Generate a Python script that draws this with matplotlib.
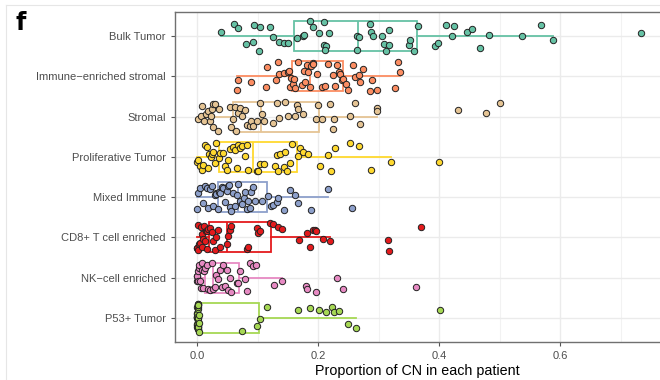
import matplotlib.pyplot as plt
import numpy as np

plt.rcParams['font.family'] = ['Liberation Sans', 'DejaVu Sans']

# categories, top to bottom
categories = ["Bulk Tumor", "Immune\u2212enriched stromal", "Stromal", "Proliferative Tumor",
              "Mixed Immune", "CD8+ T cell enriched", "NK\u2212cell enriched", "P53+ Tumor"]
colors = ["#66C2A5", "#FC8D62", "#E5C494", "#FFD92F", "#8DA0CB", "#E41A1C", "#E78AC3", "#A6D854"]

# per-patient proportions
bulk = [0.039, 0.061, 0.068, 0.081, 0.092, 0.094, 0.102, 0.104, 0.121, 0.125, 0.136, 0.144,
        0.150, 0.166, 0.175, 0.177, 0.187, 0.191, 0.202, 0.210, 0.210, 0.213, 0.218, 0.212,
        0.264, 0.265, 0.267, 0.286, 0.287, 0.291, 0.305, 0.309, 0.313, 0.317, 0.318, 0.350,
        0.352, 0.359, 0.365, 0.393, 0.399, 0.412, 0.421, 0.424, 0.447, 0.454, 0.467, 0.483,
        0.538, 0.568, 0.588, 0.734]
immune_stromal = [0.066, 0.068, 0.089, 0.114, 0.116, 0.130, 0.134, 0.136, 0.143, 0.151, 0.152,
                  0.154, 0.155, 0.159, 0.161, 0.162, 0.167, 0.173, 0.177, 0.178, 0.181, 0.184,
                  0.186, 0.188, 0.191, 0.192, 0.198, 0.206, 0.212, 0.217, 0.225, 0.228, 0.231,
                  0.235, 0.236, 0.239, 0.242, 0.247, 0.250, 0.258, 0.261, 0.268, 0.269, 0.274,
                  0.286, 0.289, 0.297, 0.327, 0.333, 0.336]
stromal = [0.002, 0.006, 0.009, 0.011, 0.015, 0.019, 0.021, 0.023, 0.024, 0.026, 0.027, 0.030,
           0.034, 0.037, 0.054, 0.057, 0.060, 0.063, 0.064, 0.068, 0.071, 0.074, 0.079, 0.082,
           0.088, 0.090, 0.093, 0.099, 0.104, 0.107, 0.110, 0.126, 0.132, 0.136, 0.145, 0.151,
           0.162, 0.165, 0.167, 0.176, 0.197, 0.200, 0.206, 0.220, 0.225, 0.226, 0.253, 0.261,
           0.269, 0.297, 0.298, 0.431, 0.478, 0.501]
proliferative = [0.000, 0.002, 0.005, 0.008, 0.010, 0.013, 0.016, 0.019, 0.020, 0.023, 0.024,
                 0.027, 0.030, 0.032, 0.037, 0.038, 0.043, 0.046, 0.049, 0.052, 0.054, 0.060,
                 0.063, 0.066, 0.068, 0.071, 0.074, 0.079, 0.082, 0.085, 0.099, 0.101, 0.104,
                 0.110, 0.129, 0.132, 0.134, 0.137, 0.143, 0.146, 0.148, 0.154, 0.157, 0.167,
                 0.170, 0.176, 0.184, 0.203, 0.217, 0.222, 0.228, 0.253, 0.268, 0.288, 0.321,
                 0.400]
mixed_immune = [0.000, 0.002, 0.005, 0.010, 0.013, 0.016, 0.019, 0.021, 0.024, 0.027, 0.030,
                0.031, 0.032, 0.035, 0.037, 0.038, 0.041, 0.043, 0.046, 0.049, 0.052, 0.053,
                0.054, 0.057, 0.060, 0.063, 0.066, 0.068, 0.071, 0.074, 0.077, 0.079, 0.082,
                0.085, 0.088, 0.090, 0.093, 0.096, 0.107, 0.118, 0.123, 0.126, 0.132, 0.134,
                0.143, 0.154, 0.162, 0.167, 0.189, 0.217, 0.257]
cd8 = [0.000, 0.000, 0.001, 0.002, 0.004, 0.005, 0.006, 0.008, 0.009, 0.010, 0.011, 0.013,
       0.015, 0.016, 0.017, 0.019, 0.021, 0.024, 0.027, 0.030, 0.032, 0.035, 0.038, 0.049,
       0.052, 0.054, 0.057, 0.082, 0.085, 0.099, 0.101, 0.104, 0.120, 0.126, 0.134, 0.141,
       0.169, 0.181, 0.187, 0.192, 0.195, 0.197, 0.209, 0.220, 0.316, 0.318, 0.370]
nk_cell = [0.000, 0.000, 0.000, 0.001, 0.002, 0.003, 0.004, 0.005, 0.006, 0.008, 0.009, 0.010,
           0.011, 0.013, 0.016, 0.019, 0.021, 0.024, 0.027, 0.030, 0.032, 0.035, 0.038, 0.041,
           0.043, 0.046, 0.049, 0.052, 0.054, 0.057, 0.066, 0.068, 0.071, 0.079, 0.082, 0.088,
           0.092, 0.098, 0.128, 0.140, 0.180, 0.181, 0.197, 0.232, 0.241, 0.362]
p53 = [0.000] * 10 + [0.001] * 8 + [0.002] * 6 + [0.003] * 3 + \
      [0.074, 0.099, 0.104, 0.116, 0.167, 0.187, 0.202, 0.214, 0.223, 0.227, 0.234, 0.250,
       0.263, 0.402]
values = [bulk, immune_stromal, stromal, proliferative, mixed_immune, cd8, nk_cell, p53]

# box statistics (whisker low, Q1, median, Q3, whisker high)
whislo = [0.039, 0.066, 0.002, 0.000, 0.000, 0.000, 0.000, 0.000]
q1 = [0.161, 0.157, 0.059, 0.037, 0.035, 0.020, 0.013, 0.001]
med = [0.266, 0.186, 0.106, 0.092, 0.068, 0.049, 0.027, 0.002]
q3 = [0.364, 0.242, 0.202, 0.166, 0.115, 0.123, 0.069, 0.103]
whishi = [0.588, 0.336, 0.298, 0.321, 0.217, 0.220, 0.140, 0.263]

fig = plt.figure(figsize=(6.6, 3.8), dpi=100)
ax = fig.add_axes([175 / 660, 1 - 342 / 380, 1 - 175 / 660, 330 / 380])

n = len(categories)
ypos = np.arange(n, 0, -1)
rng = np.random.default_rng(7)

for i in range(n):
    stats = [dict(whislo=whislo[i], q1=q1[i], med=med[i], q3=q3[i], whishi=whishi[i])]
    lp = dict(color=colors[i], linewidth=1.3)
    ax.bxp(stats, positions=[ypos[i]], widths=0.75, vert=False, showfliers=False,
           showcaps=False, patch_artist=True,
           boxprops=dict(facecolor='none', edgecolor=colors[i], linewidth=1.3),
           medianprops=lp, whiskerprops=lp, manage_ticks=False, zorder=2)
    # vertical jitter only, x stays at the measured value
    x = np.array(values[i])
    jitter = rng.uniform(-0.37, 0.37, len(x))
    ax.scatter(x, ypos[i] + jitter, s=21, c=colors[i], edgecolors='#222222',
               linewidths=0.7, zorder=3)

ax.set_xlim((175 - 197) / 605, (660 - 197) / 605)
ax.set_ylim(0.4, n + 0.6)
ax.set_yticks(ypos)
ax.set_yticklabels(categories)
ax.set_xticks([0.0, 0.2, 0.4, 0.6])
ax.set_xticklabels(["0.0", "0.2", "0.4", "0.6"])
ax.set_xticks([0.1, 0.3, 0.5, 0.7], minor=True)
ax.tick_params(axis='both', which='major', labelsize=8, colors='#555555',
               labelcolor='#4D4D4D', length=3, width=0.8)
ax.tick_params(axis='x', which='minor', length=0)
ax.grid(True, which='major', color='#EBEBEB', linewidth=1.0, zorder=0)
ax.grid(True, which='minor', axis='x', color='#F2F2F2', linewidth=0.8, zorder=0)
ax.set_axisbelow(True)
ax.spines['right'].set_visible(False)
for side in ['left', 'top', 'bottom']:
    ax.spines[side].set_color('#707070')
    ax.spines[side].set_linewidth(1.0)

ax.set_xlabel("Proportion of CN in each patient", fontsize=10.3, labelpad=2)

# panel letter and faint outer frame
fig.text(16 / 660, 1 - 30 / 380, "f", fontsize=17, fontweight='bold', family='DejaVu Sans')
fig.add_artist(plt.Line2D([6 / 660, 6 / 660], [0, 1 - 5 / 380], color='#E6E6E6', linewidth=0.8))
fig.add_artist(plt.Line2D([6 / 660, 1], [1 - 5 / 380, 1 - 5 / 380], color='#E6E6E6', linewidth=0.8))

fig.savefig("out.png", dpi=100)
